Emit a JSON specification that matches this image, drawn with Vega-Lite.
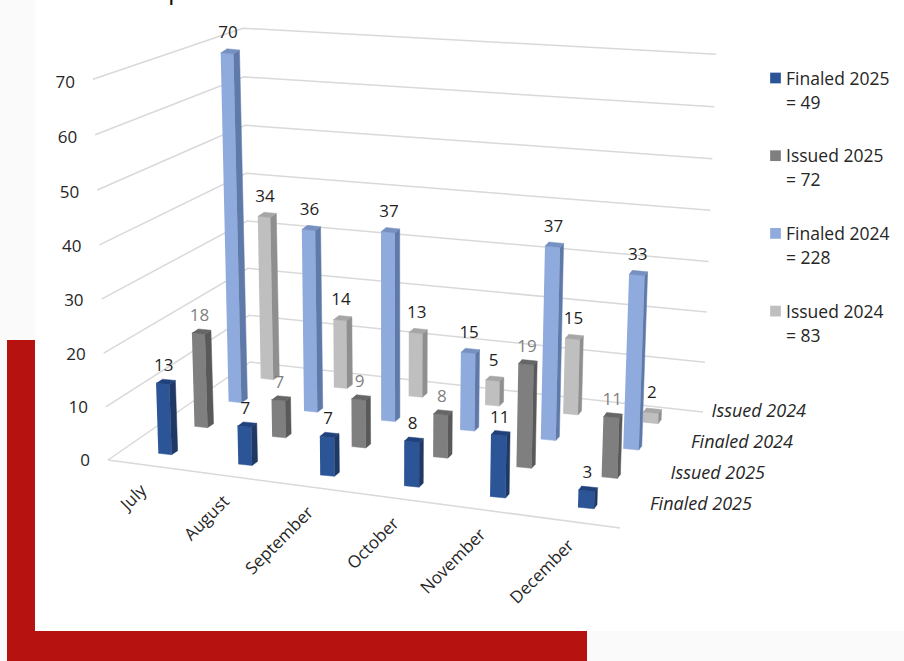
{
"$schema":"https://vega.github.io/schema/vega-lite/v6.json",
"width":904,"height":661,"padding":0,"autosize":{"type":"none"},
"background":"#fafafa",
"config":{"view":{"stroke":null},"font":"Open Sans"},
"datasets":{
"bars":[
{"month":"July","series":"Issued 2024","value":34},{"month":"August","series":"Issued 2024","value":14},{"month":"September","series":"Issued 2024","value":13},{"month":"October","series":"Issued 2024","value":5},{"month":"November","series":"Issued 2024","value":15},{"month":"December","series":"Issued 2024","value":2},
{"month":"July","series":"Finaled 2024","value":70},{"month":"August","series":"Finaled 2024","value":36},{"month":"September","series":"Finaled 2024","value":37},{"month":"October","series":"Finaled 2024","value":15},{"month":"November","series":"Finaled 2024","value":37},{"month":"December","series":"Finaled 2024","value":33},
{"month":"July","series":"Issued 2025","value":18},{"month":"August","series":"Issued 2025","value":7},{"month":"September","series":"Issued 2025","value":9},{"month":"October","series":"Issued 2025","value":8},{"month":"November","series":"Issued 2025","value":19},{"month":"December","series":"Issued 2025","value":11},
{"month":"July","series":"Finaled 2025","value":13},{"month":"August","series":"Finaled 2025","value":7},{"month":"September","series":"Finaled 2025","value":7},{"month":"October","series":"Finaled 2025","value":8},{"month":"November","series":"Finaled 2025","value":11},{"month":"December","series":"Finaled 2025","value":3}
],
"levels":[{"level":0},{"level":10},{"level":20},{"level":30},{"level":40},{"level":50},{"level":60},{"level":70}],
"months":[{"month":"July"},{"month":"August"},{"month":"September"},{"month":"October"},{"month":"November"},{"month":"December"}],
"series":[{"series":"Finaled 2025","total":49},{"series":"Issued 2025","total":72},{"series":"Finaled 2024","total":228},{"series":"Issued 2024","total":83}]
},
"layer":[
{"data":{"values":[{}]},"mark":{"type":"rect","fill":"#ffffff"},"encoding":{"x":{"datum":35,"type":"quantitative","scale":{"domain":[0,904],"nice":false,"zero":false},"axis":null},"x2":{"datum":904},"y":{"datum":0,"type":"quantitative","scale":{"domain":[661,0],"nice":false,"zero":false},"axis":null},"y2":{"datum":631}}},
{"data":{"values":[{}]},"mark":{"type":"rect","fill":"#b51210"},"encoding":{"x":{"datum":7,"type":"quantitative","axis":null},"x2":{"datum":35},"y":{"datum":340,"type":"quantitative","axis":null},"y2":{"datum":661}}},
{"data":{"values":[{}]},"mark":{"type":"rect","fill":"#b51210"},"encoding":{"x":{"datum":7,"type":"quantitative","axis":null},"x2":{"datum":587},"y":{"datum":631,"type":"quantitative","axis":null},"y2":{"datum":661}}},
{"data":{"values":[{"stub":"p"}]},"mark":{"type":"text","align":"left","baseline":"alphabetic","fontSize":26,"color":"#111111"},"encoding":{"x":{"datum":168,"type":"quantitative","axis":null},"y":{"datum":-1,"type":"quantitative","axis":null},"text":{"field":"stub"}}},
{"data":{"values":[{}]},"mark":{"type":"rule","stroke":"#d9d9d9","strokeWidth":1.5},"encoding":{"x":{"datum":108,"type":"quantitative","axis":null},"x2":{"datum":620},"y":{"datum":460,"type":"quantitative","axis":null},"y2":{"datum":528}}},
{"data":{"name":"levels"},
"transform":[
{"calculate":"[0,1,2]","as":"w"},{"flatten":["w"]},
{"calculate":"datum.w==0?108-0.214*datum.level:datum.w==1?250-0.1*datum.level:703+0.186*datum.level","as":"px"},
{"calculate":"datum.w==0?460-5.3*datum.level-0.002*datum.level*datum.level:datum.w==1?362-4.65*datum.level-0.0017*datum.level*datum.level:412-4.95*datum.level-0.0023*datum.level*datum.level","as":"py"}
],
"mark":{"type":"line","stroke":"#d9d9d9","strokeWidth":1.5},
"encoding":{"x":{"field":"px","type":"quantitative","axis":null},"y":{"field":"py","type":"quantitative","axis":null},"detail":{"field":"level"},"order":{"field":"w"}}},
{"data":{"name":"levels"},
"transform":[
{"calculate":"90-0.214*datum.level","as":"px"},
{"calculate":"460.5-5.26*datum.level-0.002*datum.level*datum.level","as":"py"}
],
"mark":{"type":"text","align":"right","baseline":"middle","fontSize":17,"color":"#262626"},
"encoding":{"x":{"field":"px","type":"quantitative","axis":null},"y":{"field":"py","type":"quantitative","axis":null},"text":{"field":"level"}}},
{"data":{"name":"bars"},
"transform":[
{"calculate":"indexof(['July','August','September','October','November','December'],datum.month)","as":"m"},
{"calculate":"indexof(['Finaled 2025','Issued 2025','Finaled 2024','Issued 2024'],datum.series)","as":"s"},
{"calculate":"165+37*datum.s-datum.s*datum.s+(79.2-2.2*datum.s)*datum.m+(1-0.06*datum.s)*datum.m*datum.m","as":"bx"},
{"calculate":"454-28*datum.s+datum.s*datum.s+(10.8-0.67*datum.s)*datum.m","as":"by"},
{"calculate":"datum.value*(5.4-0.21*datum.s+0.06*datum.m)","as":"H"},
{"calculate":"13.3+0.55*datum.m-0.25*datum.s","as":"bw"},
{"calculate":"6-0.6*datum.m","as":"dx"},
{"calculate":"(datum.bx-395)*0.000142*datum.H","as":"lx"},
{"calculate":"[0,1,2]","as":"f"},{"flatten":["f"]},
{"calculate":"[0,1,2,3]","as":"c"},{"flatten":["c"]},
{"calculate":"[[0,1,1,0],[1,1,1,1],[0,1,1,0]][datum.f][datum.c]","as":"u"},
{"calculate":"[[0,0,0,0],[0,1,1,0],[0,0,1,1]][datum.f][datum.c]","as":"d"},
{"calculate":"[[0,0,1,1],[0,0,1,1],[1,1,1,1]][datum.f][datum.c]","as":"h"},
{"calculate":"datum.bx+(datum.u-0.5)*datum.bw+datum.d*datum.dx+datum.h*datum.lx","as":"px"},
{"calculate":"datum.by+(datum.u-0.5)*datum.bw*0.1-datum.d*4-datum.h*datum.H","as":"py"},
{"calculate":"datum.series+' '+datum.f","as":"face"},
{"calculate":"datum.series+' '+datum.month+' '+datum.f","as":"piece"}
],
"mark":{"type":"line","strokeWidth":0.5,"interpolate":"linear"},
"encoding":{
"x":{"field":"px","type":"quantitative","axis":null},
"y":{"field":"py","type":"quantitative","axis":null},
"detail":{"field":"piece"},
"order":{"field":"c"},
"fill":{"field":"face","type":"nominal","legend":null,"scale":{"domain":["Finaled 2025 0","Finaled 2025 1","Finaled 2025 2","Issued 2025 0","Issued 2025 1","Issued 2025 2","Finaled 2024 0","Finaled 2024 1","Finaled 2024 2","Issued 2024 0","Issued 2024 1","Issued 2024 2"],"range":["#2b5597","#1f3864","#20427c","#7f7f7f","#595959","#666666","#8faadc","#5f7aa8","#7690c0","#bfbfbf","#8f8f8f","#a6a6a6"]}},
"stroke":{"field":"face","type":"nominal","legend":null,"scale":{"domain":["Finaled 2025 0","Finaled 2025 1","Finaled 2025 2","Issued 2025 0","Issued 2025 1","Issued 2025 2","Finaled 2024 0","Finaled 2024 1","Finaled 2024 2","Issued 2024 0","Issued 2024 1","Issued 2024 2"],"range":["#2b5597","#1f3864","#20427c","#7f7f7f","#595959","#666666","#8faadc","#5f7aa8","#7690c0","#bfbfbf","#8f8f8f","#a6a6a6"]}}
}},
{"data":{"name":"bars"},
"transform":[
{"calculate":"indexof(['July','August','September','October','November','December'],datum.month)","as":"m"},
{"calculate":"indexof(['Finaled 2025','Issued 2025','Finaled 2024','Issued 2024'],datum.series)","as":"s"},
{"calculate":"165+37*datum.s-datum.s*datum.s+(79.2-2.2*datum.s)*datum.m+(1-0.06*datum.s)*datum.m*datum.m","as":"bx"},
{"calculate":"454-28*datum.s+datum.s*datum.s+(10.8-0.67*datum.s)*datum.m","as":"by"},
{"calculate":"datum.value*(5.4-0.21*datum.s+0.06*datum.m)","as":"H"},
{"calculate":"datum.bx+(datum.bx-395)*0.000142*datum.H+1","as":"px"},
{"calculate":"datum.by-datum.H-(datum.s>1?20:17.5)","as":"py"}
],
"mark":{"type":"text","align":"center","baseline":"middle","fontSize":17},
"encoding":{
"x":{"field":"px","type":"quantitative","axis":null},
"y":{"field":"py","type":"quantitative","axis":null},
"text":{"field":"value"},
"color":{"condition":{"test":"datum.series=='Issued 2025'","value":"#7f7f7f"},"value":"#1f1f1f"}
}},
{"data":{"name":"months"},
"transform":[
{"calculate":"indexof(['July','August','September','October','November','December'],datum.month)","as":"m"},
{"calculate":"144+82*datum.m+0.7*datum.m*datum.m","as":"px"},
{"calculate":"488+11*datum.m","as":"py"}
],
"mark":{"type":"text","align":"right","baseline":"middle","angle":315,"fontSize":17,"color":"#262626"},
"encoding":{"x":{"field":"px","type":"quantitative","axis":null},"y":{"field":"py","type":"quantitative","axis":null},"text":{"field":"month"}}},
{"data":{"name":"series"},
"transform":[
{"calculate":"indexof(['Finaled 2025','Issued 2025','Finaled 2024','Issued 2024'],datum.series)","as":"s"},
{"calculate":"650+20.5*datum.s","as":"px"},
{"calculate":"504.5-30.7*datum.s","as":"py"}
],
"mark":{"type":"text","align":"left","baseline":"middle","fontSize":18,"fontStyle":"italic","color":"#262626"},
"encoding":{"x":{"field":"px","type":"quantitative","axis":null},"y":{"field":"py","type":"quantitative","axis":null},"text":{"field":"series"}}},
{"data":{"name":"series"},
"transform":[
{"calculate":"indexof(['Finaled 2025','Issued 2025','Finaled 2024','Issued 2024'],datum.series)","as":"s"},
{"calculate":"775.5","as":"px"},
{"calculate":"78+77.7*datum.s","as":"py"}
],
"mark":{"type":"square","size":115,"filled":true,"opacity":1},
"encoding":{"x":{"field":"px","type":"quantitative","axis":null},"y":{"field":"py","type":"quantitative","axis":null},
"color":{"field":"series","type":"nominal","legend":null,"scale":{"domain":["Finaled 2025","Issued 2025","Finaled 2024","Issued 2024"],"range":["#2b5597","#7f7f7f","#8faadc","#bfbfbf"]}}}},
{"data":{"name":"series"},
"transform":[
{"calculate":"indexof(['Finaled 2025','Issued 2025','Finaled 2024','Issued 2024'],datum.series)","as":"s"},
{"calculate":"786","as":"px"},
{"calculate":"70.5+77.7*datum.s","as":"py"},
{"calculate":"datum.series+'\\n= '+datum.total","as":"label"}
],
"mark":{"type":"text","align":"left","baseline":"top","fontSize":17.5,"lineBreak":"\n","lineHeight":24,"color":"#262626"},
"encoding":{"x":{"field":"px","type":"quantitative","axis":null},"y":{"field":"py","type":"quantitative","axis":null},"text":{"field":"label"}}}
]
}
